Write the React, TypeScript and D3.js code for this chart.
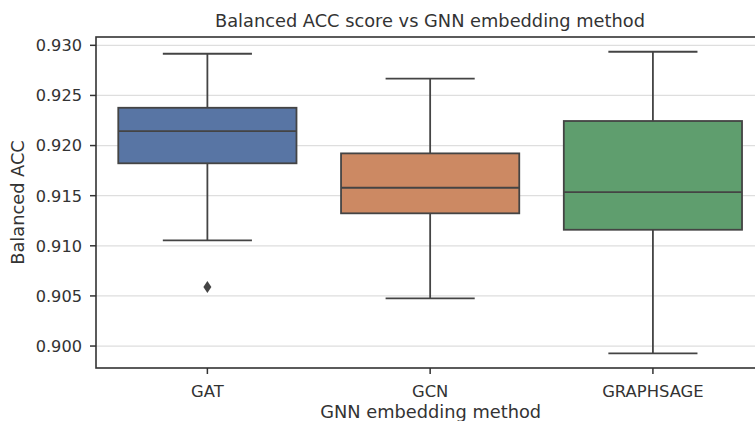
import React from "react";
import * as d3 from "d3";

const categories = ["GAT", "GCN", "GRAPHSAGE"];
const whiskerLow = [0.91055, 0.90476, 0.89927];
const q1 = [0.91823, 0.91324, 0.9116];
const median = [0.92145, 0.91579, 0.91536];
const q3 = [0.92377, 0.91922, 0.92245];
const whiskerHigh = [0.92916, 0.92667, 0.92936];
const outliers = [[0.90589], [], []];
const colors = ["#5875a4", "#cc8963", "#5f9e6e"];
const yTicks = [0.9, 0.905, 0.91, 0.915, 0.92, 0.925, 0.93];

const W = 755;
const H = 421;
const left = 96;
const right = 764.3;
const top = 37;
const bottom = 368;
const font = "'DejaVu Sans', sans-serif";
const lineColor = "#444444";

export default function App() {
  const x = d3.scaleBand<string>().domain(categories).range([left, right]).paddingInner(0).paddingOuter(0);
  const y = d3.scaleLinear().domain([0.89781, 0.93083]).range([bottom, top]);
  const bw = x.bandwidth();
  const boxW = bw * 0.8;
  const capW = boxW / 2;

  return (
    <svg width={W} height={H} style={{ position: "absolute", left: 0, top: 0, background: "#fff" }} fontFamily={font}>
      {yTicks.map((t) => (
        <line key={"g" + t} x1={left} x2={right} y1={y(t)} y2={y(t)} stroke="#dedede" strokeWidth={1.2} />
      ))}
      {categories.map((c, i) => {
        const cx = x(c)! + bw / 2;
        return (
          <g key={c}>
            <line x1={cx} x2={cx} y1={y(whiskerHigh[i])} y2={y(q3[i])} stroke={lineColor} strokeWidth={1.8} />
            <line x1={cx} x2={cx} y1={y(q1[i])} y2={y(whiskerLow[i])} stroke={lineColor} strokeWidth={1.8} />
            <line x1={cx - capW / 2} x2={cx + capW / 2} y1={y(whiskerHigh[i])} y2={y(whiskerHigh[i])} stroke={lineColor} strokeWidth={1.8} />
            <line x1={cx - capW / 2} x2={cx + capW / 2} y1={y(whiskerLow[i])} y2={y(whiskerLow[i])} stroke={lineColor} strokeWidth={1.8} />
            <rect x={cx - boxW / 2} width={boxW} y={y(q3[i])} height={y(q1[i]) - y(q3[i])} fill={colors[i]} stroke={lineColor} strokeWidth={1.8} />
            <line x1={cx - boxW / 2} x2={cx + boxW / 2} y1={y(median[i])} y2={y(median[i])} stroke={lineColor} strokeWidth={1.8} />
            {outliers[i].map((o, j) => {
              const oy = y(o);
              return (
                <path key={j} d={`M${cx},${oy - 6} L${cx + 4},${oy} L${cx},${oy + 6} L${cx - 4},${oy} Z`} fill={lineColor} />
              );
            })}
          </g>
        );
      })}
      <rect x={left} y={top} width={right - left} height={bottom - top} fill="none" stroke="#333" strokeWidth={1.6} />
      {yTicks.map((t) => (
        <g key={"t" + t}>
          <line x1={left - 6} x2={left} y1={y(t)} y2={y(t)} stroke="#333" strokeWidth={1.5} />
          <text x={left - 14} y={y(t)} dy="0.36em" textAnchor="end" fontSize={16.2} fill="#333">
            {d3.format(".3f")(t)}
          </text>
        </g>
      ))}
      {categories.map((c) => {
        const cx = x(c)! + bw / 2;
        return (
          <g key={"x" + c}>
            <line x1={cx} x2={cx} y1={bottom} y2={bottom + 6} stroke="#333" strokeWidth={1.5} />
            <text x={cx} y={bottom + 29} textAnchor="middle" fontSize={16.4} fill="#333">
              {c}
            </text>
          </g>
        );
      })}
      <text x={430.7} y={418} textAnchor="middle" fontSize={17.8} fill="#333">
        GNN embedding method
      </text>
      <text transform={`translate(24,${(top + bottom) / 2}) rotate(-90)`} textAnchor="middle" fontSize={17.8} fill="#333">
        Balanced ACC
      </text>
      <text x={430} y={27} textAnchor="middle" fontSize={17.8} fill="#333">
        Balanced ACC score vs GNN embedding method
      </text>
    </svg>
  );
}
